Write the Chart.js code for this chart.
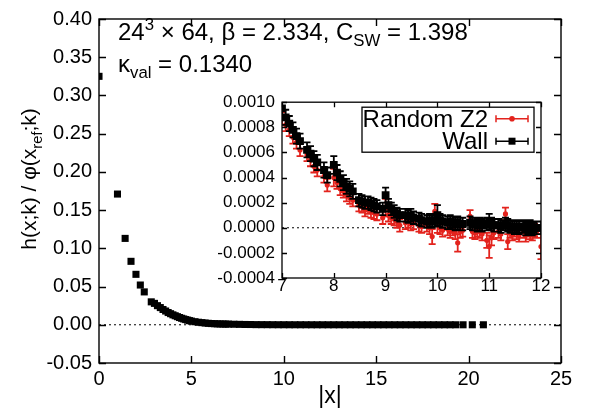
<!DOCTYPE html>
<html>
<head>
<meta charset="utf-8">
<script src="https://cdn.jsdelivr.net/npm/chart.js@4.4.0/dist/chart.umd.min.js"></script>
<style>
  html, body { margin: 0; padding: 0; background: #fff; }
  #wrap { position: relative; width: 589px; height: 417px; }
  #mainCanvas { position: absolute; left: 0; top: 0; }
  #insetCanvas { position: absolute; left: 205px; top: 85px; }
</style>
</head>
<body>
<div id="wrap">
  <canvas id="mainCanvas" width="589" height="417"></canvas>
  <canvas id="insetCanvas" width="350" height="220"></canvas>
</div>
<script>
// ===== data: main panel (Wall source, all |x|) =====
const mainX = [
  0, 1, 1.414, 1.732, 2, 2.236, 2.449, 2.828, 3, 3.162,
  3.317, 3.464, 3.606, 3.742, 3.873, 4, 4.123, 4.243, 4.359, 4.472,
  4.583, 4.69, 4.796, 4.899, 5, 5.196, 5.385, 5.568, 5.745, 5.916,
  6.083, 6.245, 6.403, 6.557, 6.708, 6.856, 7, 7.3, 7.6, 7.9,
  8.2, 8.5, 8.8, 9.1, 9.4, 9.7, 10.0, 10.3, 10.6, 10.9,
  11.2, 11.5, 11.8, 12.1, 12.4, 12.7, 13.0, 13.3, 13.6, 13.9,
  14.2, 14.5, 14.8, 15.1, 15.4, 15.7, 16.0, 16.3, 16.6, 16.9,
  17.2, 17.5, 17.8, 18.1, 18.4, 18.7, 19.0, 19.3, 19.7, 20.2,
  20.8,
];
const mainY = [
  0.325, 0.171, 0.113, 0.083, 0.066, 0.052, 0.043, 0.030, 0.028, 0.025,
  0.0225, 0.020, 0.018, 0.016, 0.0145, 0.013, 0.0118, 0.0106, 0.0095, 0.0085,
  0.0076, 0.0068, 0.0061, 0.0054, 0.0048, 0.0040, 0.0033, 0.0028, 0.0023, 0.0019,
  0.0016, 0.0014, 0.0012, 0.0011, 0.0010, 0.0009, 0.0009, 0.0007, 0.00055, 0.0004,
  0.00035, 0.0002, 0.00017, 0.00015, 0.0001, 0.00007, 0.00006, 0.00004, 0.00003, 0.00003,
  0.00002, 0.00001, 0, 0, 0, 0, 0, 0, 0, 0,
  0, 0, 0, 0, 0, 0, 0, 0, 0, 0,
  0, 0, 0, 0, 0, 0, 0, 0, 0, 0,
  0,
];

// ===== data: inset (7 <= |x| <= 12) =====
const insetX = [
  7.000, 7.071, 7.141, 7.211, 7.280, 7.348, 7.483, 7.550, 7.616, 7.681,
  7.810, 7.874, 8.000, 8.062, 8.124, 8.185, 8.246, 8.307, 8.367, 8.485,
  8.544, 8.602, 8.660, 8.718, 8.775, 8.832, 8.944, 9.000, 9.055, 9.110,
  9.165, 9.220, 9.274, 9.381, 9.434, 9.487, 9.539, 9.644, 9.695, 9.798,
  9.849, 9.899, 9.950, 10.000, 10.050, 10.100, 10.198, 10.247, 10.296, 10.344,
  10.392, 10.440, 10.488, 10.630, 10.677, 10.724, 10.770, 10.817, 10.863, 10.954,
  11.000, 11.045, 11.091, 11.180, 11.225, 11.314, 11.358, 11.402, 11.446, 11.489,
  11.533, 11.576, 11.662, 11.705, 11.747, 11.790, 11.832, 11.874, 11.916, 12.000,
];
const z2Y = [
  0.00087, 0.00082, 0.00078, 0.00072, 0.00068, 0.00062, 0.00058, 0.00054, 0.00049, 0.00046,
  0.00041, 0.00034, 0.00040, 0.00036, 0.00031, 0.00029, 0.00026, 0.00024, 0.00022, 0.00018,
  0.00017, 0.00014, 0.00016, 0.00013, 0.00012, 0.00011, 0.00008, 0.00016, 0.00010, 0.00008,
  0.00007, 0.00005, 0.00002, 0.00004, 0.00005, 0.00003, 0.00004, 0.00002, 0.00001, 0.00002,
  0.00000, -0.00007, 0.00013, 0.00004, 0.00000, -0.00002, -0.00001, -0.00003, -0.00001, -0.00004,
  -0.00012, -0.00003, -0.00002, 0.00009, -0.00003, -0.00004, -0.00002, -0.00003, -0.00005, -0.00010,
  -0.00015, -0.00008, -0.00004, -0.00003, -0.00005, 0.00011, -0.00011, -0.00003, -0.00005, -0.00002,
  -0.00004, -0.00006, -0.00003, -0.00006, -0.00002, -0.00004, -0.00005, -0.00002, -0.00003, -0.00015,
];
const z2Err = [
  0.00005, 0.00005, 0.00005, 0.00005, 0.00005, 0.00005, 0.00005, 0.00005, 0.00005, 0.00005,
  0.00005, 0.00005, 0.00007, 0.00005, 0.00005, 0.00005, 0.00005, 0.00005, 0.00005, 0.00005,
  0.00005, 0.00005, 0.00005, 0.00005, 0.00005, 0.00005, 0.00005, 0.00007, 0.00005, 0.00005,
  0.00005, 0.00005, 0.00005, 0.00005, 0.00005, 0.00005, 0.00005, 0.00005, 0.00005, 0.00005,
  0.00005, 0.00006, 0.00006, 0.00008, 0.00005, 0.00005, 0.00005, 0.00005, 0.00005, 0.00005,
  0.00007, 0.00005, 0.00005, 0.00005, 0.00005, 0.00005, 0.00005, 0.00005, 0.00005, 0.00006,
  0.00009, 0.00006, 0.00005, 0.00005, 0.00005, 0.00005, 0.00006, 0.00005, 0.00005, 0.00005,
  0.00005, 0.00005, 0.00005, 0.00005, 0.00005, 0.00005, 0.00005, 0.00005, 0.00005, 0.00010,
];
const wallY = [
  0.00095, 0.00088, 0.00083, 0.00078, 0.00073, 0.00069, 0.00062, 0.00059, 0.00055, 0.00052,
  0.00046, 0.00042, 0.00050, 0.00044, 0.00039, 0.00036, 0.00033, 0.00031, 0.00029, 0.00022,
  0.00021, 0.00020, 0.00020, 0.00019, 0.00018, 0.00017, 0.00015, 0.00026, 0.00018, 0.00015,
  0.00013, 0.00011, 0.00010, 0.00010, 0.00009, 0.00010, 0.00008, 0.00007, 0.00006, 0.00005,
  0.00006, 0.00005, 0.00006, 0.00010, 0.00006, 0.00005, 0.00004, 0.00005, 0.00004, 0.00003,
  0.00004, 0.00003, 0.00003, 0.00004, 0.00003, 0.00003, 0.00002, 0.00003, 0.00002, 0.00003,
  0.00005, 0.00003, 0.00002, 0.00002, 0.00001, 0.00003, 0.00002, 0.00001, 0.00001, 0.00000,
  0.00001, 0.00000, 0.00001, -0.00001, 0.00000, 0.00001, -0.00001, 0.00000, 0.00000, 0.00000,
];
const wallErr = [
  0.00006, 0.00006, 0.00006, 0.00006, 0.00006, 0.00006, 0.00006, 0.00006, 0.00006, 0.00006,
  0.00006, 0.00006, 0.00007, 0.00006, 0.00006, 0.00006, 0.00006, 0.00006, 0.00006, 0.00005,
  0.00005, 0.00005, 0.00005, 0.00005, 0.00005, 0.00005, 0.00005, 0.00006, 0.00005, 0.00005,
  0.00005, 0.00005, 0.00005, 0.00005, 0.00005, 0.00005, 0.00005, 0.00005, 0.00005, 0.00005,
  0.00005, 0.00005, 0.00005, 0.00008, 0.00005, 0.00005, 0.00005, 0.00005, 0.00005, 0.00005,
  0.00005, 0.00005, 0.00005, 0.00005, 0.00005, 0.00005, 0.00005, 0.00005, 0.00005, 0.00005,
  0.00006, 0.00005, 0.00005, 0.00005, 0.00005, 0.00005, 0.00005, 0.00005, 0.00005, 0.00005,
  0.00005, 0.00005, 0.00005, 0.00005, 0.00005, 0.00005, 0.00005, 0.00005, 0.00005, 0.00005,
];

const RED = "#e3231d";
const FONT = '"Liberation Sans", Arial, Helvetica, sans-serif';
Chart.defaults.font.family = FONT;
Chart.defaults.color = "#000";

const toPts = (xs, ys) => xs.map((x, i) => ({ x, y: ys[i] }));

// ===== 輔助：帶上下標的文字 =====
// parts: [text, shift]  shift 1 = superscript, -1 = subscript
function drawRich(ctx, parts, x, y, size) {
  let cx = x;
  parts.forEach(([txt, shift]) => {
    const s = shift ? size * 0.7 : size;
    ctx.font = `${s}px ${FONT}`;
    const dy = shift === 1 ? -size * 0.42 : shift === -1 ? size * 0.27 : 0;
    ctx.fillText(txt, cx, y + dy);
    cx += ctx.measureText(txt).width;
  });
  return cx - x;
}
function richWidth(ctx, parts, size) {
  let w = 0;
  parts.forEach(([txt, shift]) => {
    ctx.font = `${shift ? size * 0.7 : size}px ${FONT}`;
    w += ctx.measureText(txt).width;
  });
  return w;
}

// ===== 插件：外框與內向刻度 =====
const frameTicks = {
  id: "frameTicks",
  afterDatasetsDraw(chart, args, opts) {
    const { ctx, chartArea: a, scales } = chart;
    const { x, y } = scales;
    const len = opts.len || 6;
    ctx.save();
    ctx.strokeStyle = "#000";
    ctx.lineWidth = opts.width || 1.3;
    ctx.beginPath();
    x.ticks.forEach((t) => {
      const px = Math.round(x.getPixelForValue(t.value)) + 0.5;
      ctx.moveTo(px, a.bottom);
      ctx.lineTo(px, a.bottom - len);
      ctx.moveTo(px, a.top);
      ctx.lineTo(px, a.top + len);
    });
    y.ticks.forEach((t) => {
      const py = Math.round(y.getPixelForValue(t.value)) + 0.5;
      ctx.moveTo(a.left, py);
      ctx.lineTo(a.left + len, py);
      ctx.moveTo(a.right, py);
      ctx.lineTo(a.right - len, py);
    });
    ctx.stroke();
    ctx.strokeRect(a.left, a.top, a.right - a.left, a.bottom - a.top);
    ctx.restore();
  },
};

// ===== 插件：誤差棒 =====
const errorBars = {
  id: "errorBars",
  beforeDatasetDraw(chart, args) {
    const ds = chart.data.datasets[args.index];
    if (!ds.errors) return;
    const { ctx, chartArea: a, scales } = chart;
    const { x, y } = scales;
    ctx.save();
    ctx.beginPath();
    ctx.rect(a.left, a.top, a.right - a.left, a.bottom - a.top);
    ctx.clip();
    ctx.strokeStyle = ds.borderColor;
    ctx.lineWidth = 1.8;
    ctx.beginPath();
    ds.data.forEach((p, i) => {
      const e = ds.errors[i];
      const px = x.getPixelForValue(p.x);
      const y1 = y.getPixelForValue(p.y + e);
      const y2 = y.getPixelForValue(p.y - e);
      ctx.moveTo(px, y1);
      ctx.lineTo(px, y2);
      ctx.moveTo(px - 3.5, y1);
      ctx.lineTo(px + 3.5, y1);
      ctx.moveTo(px - 3.5, y2);
      ctx.lineTo(px + 3.5, y2);
    });
    ctx.stroke();
    ctx.restore();
  },
};

// ===== 插件：主圖文字 (標題、軸標題) =====
const mainTexts = {
  id: "mainTexts",
  afterDraw(chart) {
    const { ctx, chartArea: a } = chart;
    ctx.save();
    ctx.fillStyle = "#000";
    ctx.textBaseline = "alphabetic";
    ctx.textAlign = "left";
    drawRich(ctx, [["24"], ["3", 1], [" \u00d7 64, \u03b2 = 2.334, C"], ["SW", -1], [" = 1.398"]], a.left + 19, 40, 24);
    drawRich(ctx, [["\u03ba"], ["val", -1], [" = 0.1340"]], a.left + 19, 72, 24);

    // x 軸標題
    ctx.font = `23px ${FONT}`;
    ctx.textAlign = "center";
    ctx.fillText("|x|", (a.left + a.right) / 2, 403);

    // y 軸標題 (旋轉)
    ctx.textAlign = "left";
    const yParts = [["h(x;k) / \u03c6(x"], ["ref", -1], [";k)"]];
    const w = richWidth(ctx, yParts, 21);
    ctx.translate(36, 179 + w / 2);
    ctx.rotate(-Math.PI / 2);
    drawRich(ctx, yParts, 0, 0, 21);
    ctx.restore();
  },
};

// ===== 插件：插圖圖例 =====
const insetLegend = {
  id: "insetLegend",
  afterDraw(chart) {
    const { ctx, chartArea: a } = chart;
    const items = chart.data.datasets.filter((d) => d.errors);
    ctx.save();
    ctx.strokeStyle = "#000";
    ctx.lineWidth = 1.3;
    ctx.strokeRect(a.left + 80, a.top + 5, a.right - a.left - 87, 45);
    ctx.font = `24px ${FONT}`;
    ctx.textAlign = "right";
    ctx.fillStyle = "#000";
    items.forEach((d, i) => {
      const base = a.top + 25 + i * 21.5;
      const ly = a.top + 16.5 + i * 22.5;
      ctx.fillText(d.label, a.right - 53, base);
      const x1 = a.right - 45, x2 = a.right - 13, xm = (x1 + x2) / 2;
      ctx.strokeStyle = d.borderColor;
      ctx.lineWidth = 1.5;
      ctx.beginPath();
      ctx.moveTo(x1, ly); ctx.lineTo(x2, ly);
      ctx.moveTo(x1, ly - 3.5); ctx.lineTo(x1, ly + 3.5);
      ctx.moveTo(x2, ly - 3.5); ctx.lineTo(x2, ly + 3.5);
      ctx.stroke();
      ctx.fillStyle = d.backgroundColor;
      if (d.pointStyle === "rect") {
        ctx.fillRect(xm - 3.5, ly - 3.5, 7, 7);
      } else {
        ctx.beginPath();
        ctx.arc(xm, ly, 2.8, 0, Math.PI * 2);
        ctx.fill();
      }
      ctx.fillStyle = "#000";
    });
    ctx.restore();
  },
};

// ===== 1. 主圖 =====
new Chart(document.getElementById("mainCanvas"), {
  type: "scatter",
  data: {
    datasets: [
      {
        type: "line",
        data: [{ x: 0, y: 0 }, { x: 25, y: 0 }],
        borderColor: "#000",
        borderWidth: 1,
        borderDash: [2, 3],
        pointRadius: 0,
        order: 2,
      },
      {
        label: "Wall",
        data: toPts(mainX, mainY),
        pointStyle: "rect",
        pointRadius: 5,
        backgroundColor: "#000",
        borderColor: "#000",
        borderWidth: 0,
        order: 1,
      },
    ],
  },
  plugins: [frameTicks, mainTexts],
  options: {
    responsive: false,
    animation: false,
    events: [],
    layout: { padding: { top: 8, right: 28, left: 0, bottom: 0 } },
    plugins: { legend: { display: false }, tooltip: { enabled: false }, frameTicks: { len: 7, width: 1.4 } },
    scales: {
      x: {
        type: "linear",
        min: 0,
        max: 25,
        grid: { display: false, drawTicks: false },
        border: { display: false },
        ticks: { stepSize: 5, padding: 4, font: { size: 20 }, color: "#000" },
        afterFit: (s) => { s.height = 54; },
      },
      y: {
        min: -0.05,
        max: 0.4,
        grid: { display: false, drawTicks: false },
        border: { display: false },
        ticks: {
          stepSize: 0.05,
          padding: 7,
          font: { size: 20 },
          color: "#000",
          callback: (v) => (Math.abs(v) < 1e-12 ? 0 : v).toFixed(2),
        },
        afterFit: (s) => { s.width = 99; },
      },
    },
  },
});

// ===== 2. 插圖 =====
new Chart(document.getElementById("insetCanvas"), {
  type: "scatter",
  data: {
    datasets: [
      {
        type: "line",
        data: [{ x: 7, y: 0 }, { x: 12, y: 0 }],
        borderColor: "#000",
        borderWidth: 1,
        borderDash: [2, 3],
        pointRadius: 0,
        order: 3,
      },
      {
        label: "Random Z2",
        data: toPts(insetX, z2Y),
        errors: z2Err,
        pointStyle: "circle",
        pointRadius: 2.6,
        backgroundColor: RED,
        borderColor: RED,
        borderWidth: 0,
        order: 2,
      },
      {
        label: "Wall",
        data: toPts(insetX, wallY),
        errors: wallErr,
        pointStyle: "rect",
        pointRadius: 5.5,
        backgroundColor: "#000",
        borderColor: "#000",
        borderWidth: 0,
        order: 1,
      },
    ],
  },
  plugins: [errorBars, frameTicks, insetLegend],
  options: {
    responsive: false,
    animation: false,
    events: [],
    layout: { padding: { top: 12, right: 14, left: 0, bottom: 0 } },
    plugins: { legend: { display: false }, tooltip: { enabled: false }, frameTicks: { len: 5, width: 1.3 } },
    scales: {
      x: {
        type: "linear",
        min: 7,
        max: 12,
        grid: { display: false, drawTicks: false },
        border: { display: false },
        ticks: { stepSize: 1, padding: -2, font: { size: 17 }, color: "#000" },
        afterFit: (s) => { s.height = 27; },
      },
      y: {
        min: -0.0004,
        max: 0.001,
        grid: { display: false, drawTicks: false },
        border: { display: false },
        ticks: {
          stepSize: 0.0002,
          padding: 7,
          font: { size: 17 },
          color: "#000",
          callback: (v) => (Math.abs(v) < 1e-12 ? 0 : v).toFixed(4),
        },
        afterFit: (s) => { s.width = 77; },
      },
    },
  },
});
</script>
</body>
</html>
